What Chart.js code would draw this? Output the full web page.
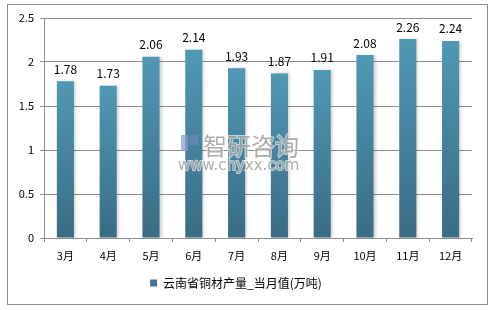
<!DOCTYPE html>
<html><head><meta charset="utf-8">
<script src="https://cdn.jsdelivr.net/npm/chart.js@4"></script>
<style>
html,body{margin:0;padding:0;background:#fff;}
#wrap{position:absolute;left:0;top:0;width:495px;height:310px;}
#frame{position:absolute;left:7px;top:4px;width:479px;height:299px;border:1px solid #8c8c8c;pointer-events:none;}
</style></head>
<body>
<div id="wrap"><canvas id="c" width="495" height="310"></canvas><div id="frame"></div></div>
<script>
const categories = ['3月','4月','5月','6月','7月','8月','9月','10月','11月','12月'];
const values = [1.78,1.73,2.06,2.14,1.93,1.87,1.91,2.08,2.26,2.24];
const yTicks = [0,0.5,1,1.5,2,2.5];
const seriesName = '云南省铜材产量_当月值(万吨)';

const FONT = "'Noto Sans CJK SC','DejaVu Sans',sans-serif";

function barGradient(ctx){
  const chart = ctx.chart;
  const area = chart.chartArea;
  if(!area || ctx.type !== 'data') return '#4a8aa6';
  const y = chart.scales.y;
  const top = y.getPixelForValue(values[ctx.dataIndex]);
  const g = chart.ctx.createLinearGradient(0, top, 0, area.bottom);
  g.addColorStop(0, '#5098b4');
  g.addColorStop(1, '#3a6c84');
  return g;
}

const shadowPlugin = {
  id:'shadow',
  beforeDatasetsDraw(chart){
    const c = chart.ctx; c.save();
    c.shadowColor='rgba(0,0,0,0.18)'; c.shadowBlur=3; c.shadowOffsetX=2; c.shadowOffsetY=0;
  },
  afterDatasetsDraw(chart){
    chart.ctx.restore();
    const c = chart.ctx;
    const meta = chart.getDatasetMeta(0);
    c.save();
    c.font = "12px " + FONT;
    c.fillStyle = '#000';
    c.textAlign='center'; c.textBaseline='bottom';
    meta.data.forEach((b,i)=>{
      c.fillText(values[i].toFixed(2), b.x, b.y - 6);
    });
    // watermark
    c.globalAlpha = 0.7;
    c.fillStyle = '#8a9bc8';
    c.fillRect(181,135,7,16);
    c.fillStyle = '#6f86c0';
    c.fillRect(189,135,9,10);
    c.fillStyle='#8a8a8a';
    c.font = "24px " + FONT;
    c.textAlign='left'; c.textBaseline='middle';
    c.strokeStyle='rgba(255,255,255,0.9)'; c.lineWidth=2;
    c.strokeText('智研咨询', 203, 146);
    c.fillText('智研咨询', 203, 146);
    c.font = "15px 'DejaVu Sans',sans-serif";
    c.strokeText('www.chyxx.com', 178, 166);
    c.fillText('www.chyxx.com', 178, 166);
    c.restore();
  }
};

new Chart(document.getElementById('c'), {
  type:'bar',
  data:{labels:categories, datasets:[{label:seriesName, data:values, backgroundColor:barGradient,
    barPercentage:0.4, categoryPercentage:1.0, borderWidth:0}]},
  options:{
    responsive:false, animation:false,
    layout:{padding:{left:0,right:23,top:18,bottom:11}},
    plugins:{
      tooltip:{enabled:false},
      legend:{position:'bottom', labels:{boxWidth:7, boxHeight:7, color:'#000',
        font:{family:FONT,size:12}, padding:8,
        generateLabels(chart){return [{text:seriesName, fillStyle:'#3f7893', strokeStyle:'#3f7893', lineWidth:0, datasetIndex:0}];}}}
    },
    scales:{
      x:{
        grid:{display:true, drawOnChartArea:false, drawTicks:true, tickLength:4, color:'#8c8c8c', offset:true},
        border:{display:true,color:'#8c8c8c'},
        ticks:{color:'#000', font:{family:FONT,size:11}, padding:7},
        afterFit(s){s.height=31;}
      },
      y:{
        min:0,max:2.5,
        afterBuildTicks(s){s.ticks = yTicks.map(v=>({value:v}));},
        grid:{color:'#8c8c8c', tickLength:4, drawTicks:true},
        border:{display:true,color:'#8c8c8c'},
        ticks:{color:'#000', font:{family:FONT,size:11}, padding:6, callback:v=>String(v)},
        afterFit(s){s.width=44;}
      }
    }
  },
  plugins:[shadowPlugin]
});
</script>
</body></html>
